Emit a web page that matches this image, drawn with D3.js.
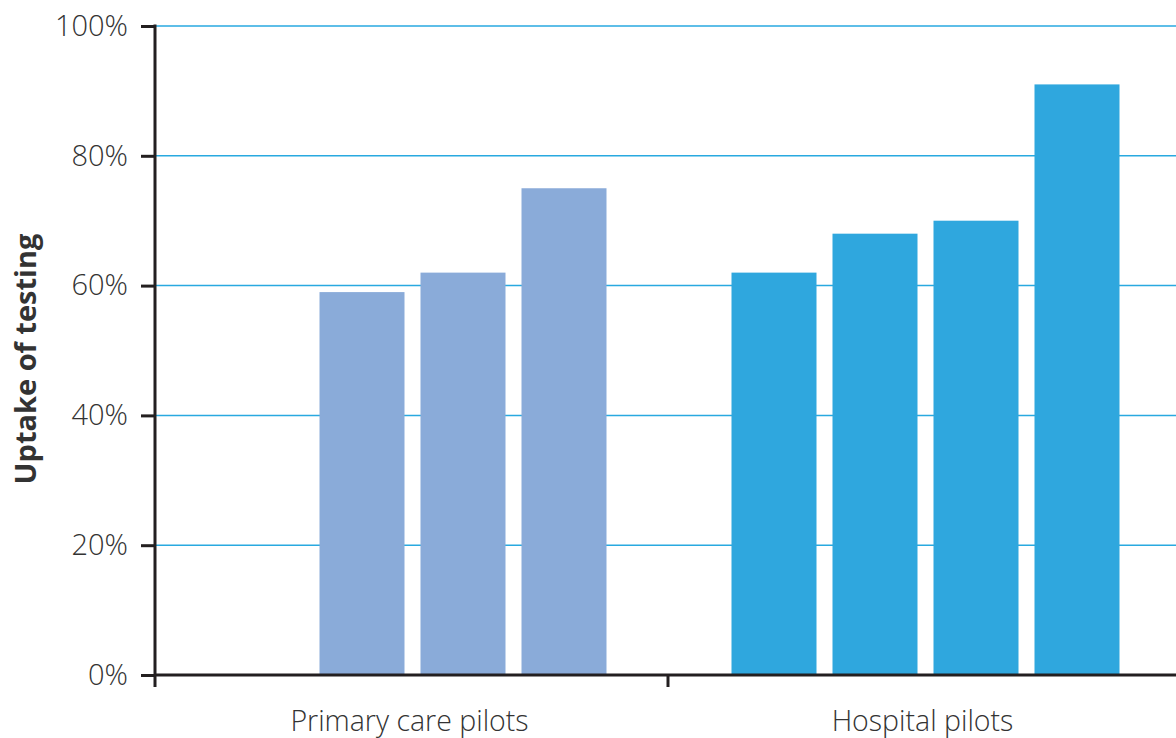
<!DOCTYPE html>
<html>
<head>
  <meta charset="utf-8">
  <script src="https://cdn.jsdelivr.net/npm/d3@7/dist/d3.min.js"></script>
  <style>
    body { margin: 0; background: #fff; }
    text { font-family: "Open Sans", sans-serif; fill: #333; }
  </style>
</head>
<body>
<svg id="chart" width="1176" height="738"></svg>
<script>
  // data
  var groups = ['Primary care pilots', 'Hospital pilots'];
  var slots = [0, 1, 2, 3];
  var primaryValues = [null, 59, 62, 75];   // first slot is empty
  var hospitalValues = [62, 68, 70, 91];
  var yTicks = [0, 20, 40, 60, 80, 100];

  var colors = { 'Primary care pilots': '#8aabd9', 'Hospital pilots': '#2fa7de' };
  var ink = '#231f20';

  var svg = d3.select('#chart');

  var y = d3.scaleLinear().domain([0, 100]).range([675, 26]);
  var x = d3.scaleBand().domain(groups).range([155, 1181]);
  var xs = d3.scaleBand().domain(slots)
    .range([63.5, 451.5]).paddingInner(16 / 101);

  // gridlines
  svg.append('g').selectAll('line')
    .data(yTicks.filter(function(d){ return d > 0; }))
    .enter().append('line')
    .attr('x1', 155).attr('x2', 1176)
    .attr('y1', function(d){ return y(d); })
    .attr('y2', function(d){ return y(d); })
    .attr('stroke', '#29a9e0')
    .attr('stroke-width', 1.5);

  // bars
  var rows = [];
  primaryValues.forEach(function(v, i){ if (v != null) rows.push({g: groups[0], i: i, v: v}); });
  hospitalValues.forEach(function(v, i){ rows.push({g: groups[1], i: i, v: v}); });

  svg.append('g').selectAll('rect')
    .data(rows)
    .enter().append('rect')
    .attr('x', function(d){ return x(d.g) + xs(d.i); })
    .attr('width', xs.bandwidth())
    .attr('y', function(d){ return y(d.v); })
    .attr('height', function(d){ return y(0) - y(d.v); })
    .attr('fill', function(d){ return colors[d.g]; });

  // y axis
  var yAxis = svg.append('g')
    .attr('transform', 'translate(155,0)')
    .call(d3.axisLeft(y).tickValues(yTicks).tickSize(14).tickPadding(13)
      .tickFormat(function(d){ return d + '%'; }));
  yAxis.select('.domain').remove();
  yAxis.selectAll('line').attr('stroke', ink).attr('stroke-width', 3);
  yAxis.selectAll('text').attr('font-size', 29).attr('font-weight', 300)
    .attr('fill', '#333').attr('font-family', '"Open Sans", sans-serif');
  svg.append('line')
    .attr('x1', 155).attr('x2', 155).attr('y1', y(100) - 1.5).attr('y2', 687)
    .attr('stroke', ink).attr('stroke-width', 3);

  // x axis
  svg.append('line')
    .attr('x1', 155).attr('x2', 1176).attr('y1', y(0)).attr('y2', y(0))
    .attr('stroke', ink).attr('stroke-width', 3);
  svg.append('line')
    .attr('x1', x(groups[1])).attr('x2', x(groups[1]))
    .attr('y1', y(0)).attr('y2', 687)
    .attr('stroke', ink).attr('stroke-width', 3);
  svg.append('g').selectAll('text')
    .data(groups)
    .enter().append('text')
    .attr('x', function(d){ return x(d) + x.bandwidth() / 2 - 2; })
    .attr('y', 731)
    .attr('text-anchor', 'middle')
    .attr('font-size', 28.5)
    .attr('font-weight', 300)
    .text(function(d){ return d; });

  // y title
  svg.append('text')
    .attr('transform', 'translate(36,359) rotate(-90)')
    .attr('text-anchor', 'middle')
    .attr('font-size', 29)
    .attr('font-weight', 700)
    .attr('fill', '#231f20')
    .text('Uptake of testing');
</script>
</body>
</html>
